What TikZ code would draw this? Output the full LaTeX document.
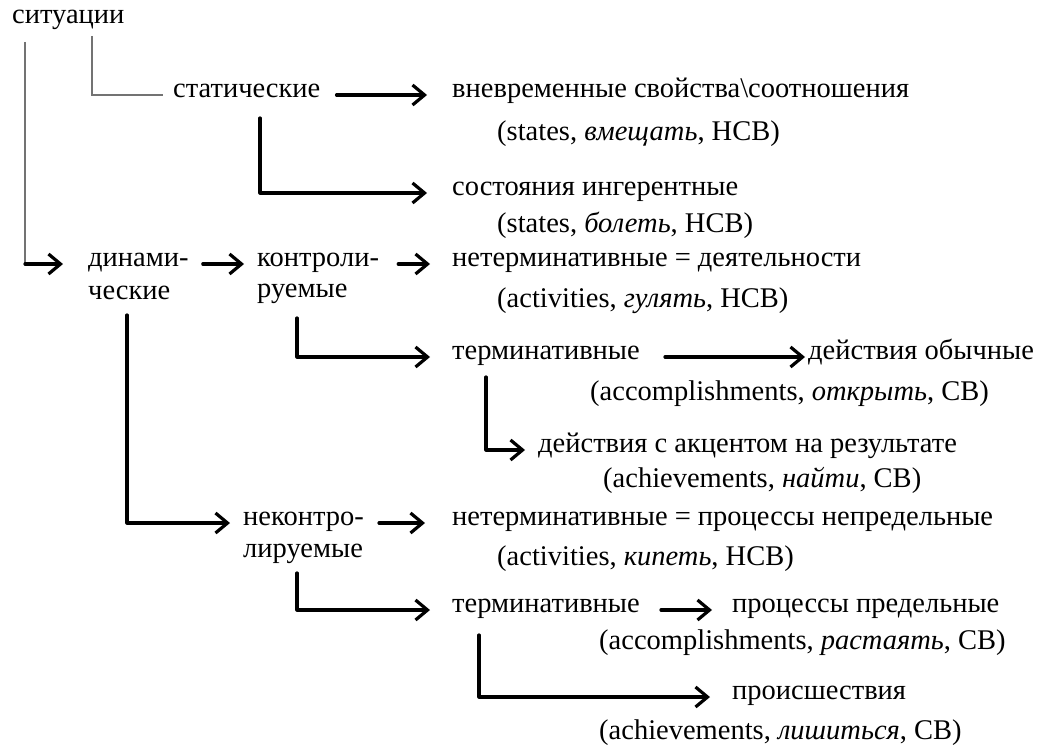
\documentclass[tikz,border=0pt]{standalone}
\usepackage{fontspec}
\setmainfont{Liberation Serif}
\usetikzlibrary{arrows.meta}
\begin{document}
\begin{tikzpicture}[x=1pt,y=-1pt,
  txt/.style={anchor=west,inner sep=0pt,text height=0.7em,text depth=0.24em,font=\fontsize{28.5}{32}\selectfont},
  arr/.style={line width=3.2pt,-{Straight Barb[length=12pt,width=20pt]},line cap=round,line join=round},
  thin/.style={line width=1.5pt,draw=black!55}]
\useasboundingbox (0,0) rectangle (1038,752);
% nodes
\node[txt] (sit) at (12,21) {ситуации};
\node[txt] (stat) at (173,95) {статические};
\node[txt] (a1) at (452,95) {вневременные свойства\textbackslash соотношения};
\node[txt] (a1p) at (497,138) {(states, \textit{вмещать}, НСВ)};
\node[txt] (a2) at (452,193) {состояния ингерентные};
\node[txt] (a2p) at (497,230) {(states, \textit{болеть}, НСВ)};
\node[txt] (dyn1) at (88,264) {динами-};
\node[txt] (dyn2) at (88,297) {ческие};
\node[txt] (ctl1) at (257,264) {контроли-};
\node[txt] (ctl2) at (257,295) {руемые};
\node[txt] (b1) at (452,264) {нетерминативные = деятельности};
\node[txt] (b1p) at (497,305) {(activities, \textit{гулять}, НСВ)};
\node[txt] (b2) at (452,357) {терминативные};
\node[txt] (c1) at (808,357) {действия обычные};
\node[txt] (c1p) at (590,398) {(accomplishments, \textit{открыть}, СВ)};
\node[txt] (c2) at (538,450) {действия с акцентом на результате};
\node[txt] (c2p) at (603,485) {(achievements, \textit{найти}, СВ)};
\node[txt] (unc1) at (243,523) {неконтро-};
\node[txt] (unc2) at (243,555) {лируемые};
\node[txt] (d1) at (452,523) {нетерминативные = процессы непредельные};
\node[txt] (d1p) at (497,563) {(activities, \textit{кипеть}, НСВ)};
\node[txt] (d2) at (452,610) {терминативные};
\node[txt] (e1) at (732,610) {процессы предельные};
\node[txt] (e1p) at (599,647) {(accomplishments, \textit{растаять}, СВ)};
\node[txt] (e2) at (732,697) {происшествия};
\node[txt] (e2p) at (599,737) {(achievements, \textit{лишиться}, СВ)};
% coordinates for branch starts
\coordinate (g1) at (25,42);
\coordinate (g1c) at (25,264);
\coordinate (g2) at (92,36);
\coordinate (v1) at (260,118);
\coordinate (v2) at (127,315);
\coordinate (v3) at (297,318);
\coordinate (v4) at (486,377);
\coordinate (v5) at (297,573);
\coordinate (v6) at (479,635);
% thin gray lines
\draw[thin] (g1) -- (g1c);
\draw[thin,shorten >=10pt] (g2) |- (stat.west);
% arrows
\draw[arr,shorten >=25pt] (g1c) -- (dyn1.west);
\draw[arr,shorten <=14pt,shorten >=13pt] (dyn1.east) -- (ctl1.west);
\draw[arr,shorten <=19pt,shorten >=22pt] (ctl1.east) -- (b1.west);
\draw[arr,shorten <=16pt,shorten >=25pt] (stat.east) -- (a1.west);
\draw[arr,shorten >=25pt] (v1) |- (a2.west);
\draw[arr,shorten >=22pt] (v3) |- (b2.west);
\draw[arr,shorten <=25pt,shorten >=3pt] (b2.east) -- (c1.west);
\draw[arr,shorten >=13pt] (v4) |- (c2.west);
\draw[arr,shorten >=13pt] (v2) |- (unc1.west);
\draw[arr,shorten <=15pt,shorten >=27pt] (unc1.east) -- (d1.west);
\draw[arr,shorten >=22pt] (v5) |- (d2.west);
\draw[arr,shorten <=21pt,shorten >=20pt] (d2.east) -- (e1.west);
\draw[arr,shorten >=22pt] (v6) |- (e2.west);
\end{tikzpicture}
\end{document}
